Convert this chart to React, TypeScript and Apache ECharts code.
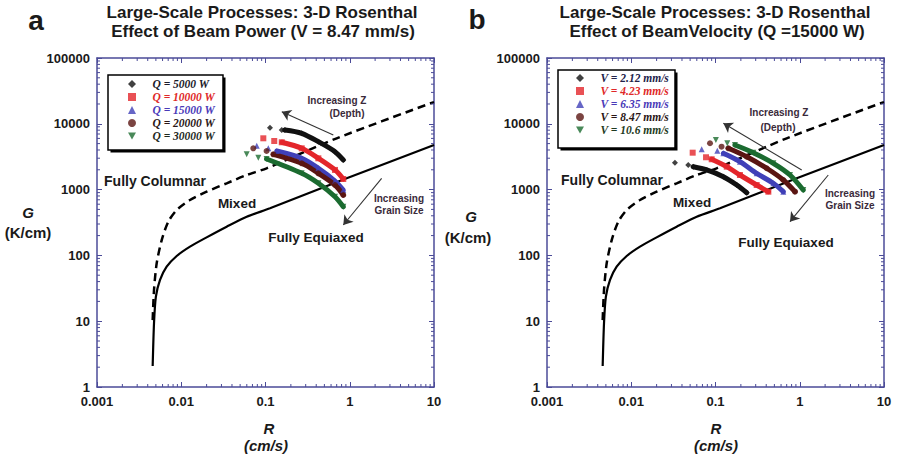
import React, { useEffect, useRef } from 'react';
import * as echarts from 'echarts';

// ---------- tick labels ----------
const xTickLabels = ['0.001', '0.01', '0.1', '1', '10'];
const yTickLabels = ['1', '10', '100', '1000', '10000', '100000'];
const minorMultipliers = [2, 3, 4, 5, 6, 7, 8, 9];
const xDecades = [0.001, 0.01, 0.1, 1];
const yDecades = [1, 10, 100, 1000, 10000];

// ---------- boundary curves (R in cm/s, G in K/cm) ----------
const equiaxedR = [0.00458, 0.00475, 0.005, 0.0056, 0.00671, 0.00883, 0.0127, 0.02, 0.0346, 0.0598, 0.113, 0.92, 10];
const equiaxedG = [2.08, 9.3, 23.6, 42.3, 67.3, 98, 136, 188, 273, 387, 520, 1485, 4760];
const columnarR = [0.00458, 0.00475, 0.00511, 0.00586, 0.00701, 0.00883, 0.0127, 0.02, 0.0346, 0.0598, 0.103, 0.7, 10];
const columnarG = [10.4, 29.8, 75.9, 171, 325, 490, 695, 929, 1247, 1667, 2108, 6020, 21400];

// ---------- panel a: effect of beam power ----------
const powerNames = ['Q = 5000 W', 'Q = 10000 W', 'Q = 15000 W', 'Q = 20000 W', 'Q = 30000 W'];
const q5000R = [0.113, 0.156, 0.17, 0.269, 0.424, 0.668, 0.838];
const q5000G = [8730, 8050, 8050, 7170, 5350, 3770, 2820];
const q10000R = [0.0942, 0.127, 0.156, 0.269, 0.424, 0.668, 0.838];
const q10000G = [6020, 5480, 5240, 4240, 2990, 1990, 1450];
const q15000R = [0.0787, 0.108, 0.136, 0.269, 0.424, 0.668, 0.838];
const q15000G = [4650, 4240, 3860, 2990, 2110, 1350, 986];
const q20000R = [0.0716, 0.103, 0.124, 0.269, 0.424, 0.668, 0.838];
const q20000G = [4240, 3860, 3440, 2510, 1770, 1175, 828];
const q30000R = [0.0598, 0.0822, 0.103, 0.269, 0.424, 0.668, 0.838];
const q30000G = [3440, 3050, 2920, 1770, 1247, 780, 550];

// ---------- panel b: effect of beam velocity ----------
const velocityNames = ['V = 2.12 mm/s', 'V = 4.23 mm/s', 'V = 6.35 mm/s', 'V = 8.47 mm/s', 'V = 10.6 mm/s'];
const v212R = [0.033, 0.0475, 0.0545, 0.0787, 0.124, 0.179, 0.235];
const v212G = [2560, 2370, 2230, 1990, 1570, 1175, 897];
const v423R = [0.0536, 0.0772, 0.0901, 0.136, 0.195, 0.308, 0.424];
const v423G = [3640, 3100, 2890, 2230, 1667, 1175, 929];
const v635R = [0.0686, 0.105, 0.124, 0.195, 0.308, 0.486, 0.638];
const v635G = [4090, 3900, 3560, 2660, 1770, 1247, 929];
const v847R = [0.0861, 0.118, 0.142, 0.235, 0.405, 0.638, 0.879];
const v847G = [5060, 4490, 4240, 3160, 2110, 1400, 929];
const v106R = [0.101, 0.138, 0.17, 0.281, 0.486, 0.766, 1.1];
const v106G = [5670, 5060, 4760, 3640, 2510, 1667, 986];

// ---------- annotation arrows [tailR, tailG, headR, headG] ----------
const arrowsA = [
  [0.638, 6760, 0.156, 15280],
  [2.39, 1485, 0.838, 290],
];
const arrowsB = [
  [1.055, 1990, 0.124, 10180],
  [2.18, 1667, 0.766, 325],
];

const ISOLATED = 2; // first points of every series are separate markers

const AXIS_COLOR = '#4b4b98';
const SANS = "'Liberation Sans', Arial, Helvetica, sans-serif";
const SERIF = "'Liberation Serif', 'Times New Roman', serif";
const symbols = ['diamond', 'rect', 'triangle', 'circle', 'triangle'];
const symbolRotates = [0, 0, 0, 0, 180];
const legendIcons = ['diamond', 'rect', 'triangle', 'circle', 'path://M0,0L10,0L5,9Z'];
const seriesColors = ['#111111', '#e3262b', '#4040b8', '#5a1512', '#1b6b30'];
const legendTextA = ['#1a1a2a', '#e02828', '#4a3ab8', '#2a1616', '#1e2a1e'];
const legendTextB = ['#22224a', '#e02828', '#4a3ab8', '#2a1616', '#1e3a22'];

const zip = (a: number[], b: number[]) => a.map((v, i) => [v, b[i]]);

function xAxisCfg(gi: number, pos: 'bottom' | 'top') {
  return {
    type: 'log', logBase: 10, gridIndex: gi, position: pos, min: 0.001, max: 10, splitNumber: 4,
    axisLine: { show: true, onZero: false, lineStyle: { color: AXIS_COLOR, width: 1.5 } },
    axisTick: { show: true, inside: true, length: 5, lineStyle: { color: AXIS_COLOR, width: 1 } },
    splitLine: { show: false },
    axisLabel: pos === 'bottom'
      ? {
          show: true, margin: 8, color: '#1a1a1a', fontSize: 13, fontWeight: 'bold', fontFamily: SANS,
          formatter: (v: number) => xTickLabels[Math.round(Math.log10(v)) + 3] ?? '',
        }
      : { show: false },
  };
}
function yAxisCfg(gi: number, pos: 'left' | 'right') {
  return {
    type: 'log', logBase: 10, gridIndex: gi, position: pos, min: 1, max: 100000, splitNumber: 5,
    axisLine: { show: true, onZero: false, lineStyle: { color: AXIS_COLOR, width: 1.5 } },
    axisTick: { show: true, inside: true, length: 5, lineStyle: { color: AXIS_COLOR, width: 1 } },
    splitLine: { show: false },
    axisLabel: pos === 'left'
      ? {
          show: true, margin: 7, color: '#1a1a1a', fontSize: 13, fontWeight: 'bold', fontFamily: SANS,
          formatter: (v: number) => yTickLabels[Math.round(Math.log10(v))] ?? '',
        }
      : { show: false },
  };
}

function minorTickSeries(gi: number) {
  const xs: number[][] = [];
  xDecades.forEach((d) => minorMultipliers.forEach((m) => xs.push([d * m, 1, 0])));
  yDecades.forEach((d) => minorMultipliers.forEach((m) => xs.push([0.001, d * m, 1])));
  return {
    type: 'custom', xAxisIndex: gi * 2, yAxisIndex: gi * 2, silent: true, clip: false, z: 6,
    data: xs,
    renderItem: (_p: any, api: any) => {
      const st = { stroke: AXIS_COLOR, lineWidth: 1 };
      if (api.value(2) === 0) {
        const b = api.coord([api.value(0), 1]);
        const t = api.coord([api.value(0), 100000]);
        return {
          type: 'group', children: [
            { type: 'line', shape: { x1: b[0], y1: b[1], x2: b[0], y2: b[1] - 3 }, style: st },
            { type: 'line', shape: { x1: t[0], y1: t[1], x2: t[0], y2: t[1] + 3 }, style: st },
          ],
        };
      }
      const l = api.coord([0.001, api.value(1)]);
      const r = api.coord([10, api.value(1)]);
      return {
        type: 'group', children: [
          { type: 'line', shape: { x1: l[0], y1: l[1], x2: l[0] + 3, y2: l[1] }, style: st },
          { type: 'line', shape: { x1: r[0], y1: r[1], x2: r[0] - 3, y2: r[1] }, style: st },
        ],
      };
    },
  };
}

function panelSeries(gi: number, names: string[], Rs: number[][], Gs: number[][], arrows: number[][]) {
  const ax = { xAxisIndex: gi * 2, yAxisIndex: gi * 2 };
  const out: any[] = [
    {
      type: 'line', ...ax, name: `equiaxed-${gi}`, data: zip(equiaxedR, equiaxedG), symbol: 'none', smooth: 0.25,
      silent: true, z: 2, lineStyle: { color: '#000', width: 2.2 },
    },
    {
      type: 'line', ...ax, name: `columnar-${gi}`, data: zip(columnarR, columnarG), symbol: 'none', smooth: 0.25,
      silent: true, z: 2, lineStyle: { color: '#000', width: 2.5, type: [8, 5] },
      markLine: {
        silent: true, symbol: ['none', 'arrow'], symbolSize: 9, label: { show: false },
        lineStyle: { color: '#333', width: 1.1, type: 'solid' },
        itemStyle: { color: '#333' },
        data: arrows.map((a) => [{ coord: [a[0], a[1]] }, { coord: [a[2], a[3]] }]),
      },
    },
  ];
  names.forEach((n, i) => {
    out.push({
      type: 'line', ...ax, name: `band-${gi}-${i}`, data: zip(Rs[i].slice(ISOLATED), Gs[i].slice(ISOLATED)),
      symbol: 'none', smooth: 0.3, silent: true, z: 3,
      lineStyle: { color: seriesColors[i], width: 5, cap: 'round' },
    });
    out.push({
      type: 'scatter', ...ax, name: n, data: zip(Rs[i], Gs[i]), symbol: symbols[i], symbolRotate: symbolRotates[i],
      symbolSize: 6, z: 4, itemStyle: { color: seriesColors[i] },
    });
  });
  out.push(minorTickSeries(gi));
  return out;
}

function txt(x: number, y: number, text: string, size: number, opts: any = {}) {
  return {
    type: 'text', x, y, silent: true,
    style: {
      text, fontSize: size, fontWeight: opts.weight ?? 'bold', fontStyle: opts.style ?? 'normal',
      fontFamily: opts.family ?? SANS, fill: opts.color ?? '#1a1a1a',
      align: opts.align ?? 'center', verticalAlign: 'middle',
      textAlign: opts.align ?? 'center', textVerticalAlign: 'middle',
    },
  };
}

function legendCfg(names: string[], colors: string[], left: number, top: number) {
  return {
    data: names.map((n, i) => ({ name: n, icon: legendIcons[i], textStyle: { color: colors[i] } })),
    orient: 'vertical', left, top, padding: 0, itemGap: 1, itemWidth: 8, itemHeight: 8,
    selectedMode: false,
    formatter: (name: string) => '\u2002\u2002' + name,
    textStyle: { fontFamily: SERIF, fontStyle: 'italic', fontWeight: 'bold', fontSize: 11.5, lineHeight: 12 },
  };
}

export default function App() {
  const ref = useRef<HTMLDivElement>(null);
  useEffect(() => {
    document.body.style.margin = '0';
    const chart = echarts.init(ref.current!, null, { renderer: 'svg' });
    const option = {
      animation: false,
      backgroundColor: '#ffffff',
      grid: [
        { left: 97, top: 58, width: 337, height: 329 },
        { left: 547, top: 58, width: 337, height: 329 },
      ],
      xAxis: [xAxisCfg(0, 'bottom'), xAxisCfg(0, 'top'), xAxisCfg(1, 'bottom'), xAxisCfg(1, 'top')],
      yAxis: [yAxisCfg(0, 'left'), yAxisCfg(0, 'right'), yAxisCfg(1, 'left'), yAxisCfg(1, 'right')],
      legend: [
        legendCfg(powerNames, legendTextA, 128, 78),
        legendCfg(velocityNames, legendTextB, 576, 72),
      ],
      series: [
        ...panelSeries(0, powerNames, [q5000R, q10000R, q15000R, q20000R, q30000R],
          [q5000G, q10000G, q15000G, q20000G, q30000G], arrowsA),
        ...panelSeries(1, velocityNames, [v212R, v423R, v635R, v847R, v106R],
          [v212G, v423G, v635G, v847G, v106G], arrowsB),
      ],
      graphic: [
        // legend frames
        { type: 'rect', silent: true, shape: { x: 110.5, y: 77.5, width: 115, height: 75 }, style: { fill: '#000' } },
        { type: 'rect', silent: true, shape: { x: 108, y: 75, width: 115, height: 75 }, style: { fill: '#fff', stroke: '#000', lineWidth: 1.5 } },
        { type: 'rect', silent: true, shape: { x: 560.5, y: 72.5, width: 117, height: 78 }, style: { fill: '#000' } },
        { type: 'rect', silent: true, shape: { x: 558, y: 70, width: 117, height: 78 }, style: { fill: '#fff', stroke: '#000', lineWidth: 1.5 } },
        // panel letters & titles
        txt(36, 20, 'a', 28),
        txt(262, 12, 'Large-Scale Processes: 3-D Rosenthal', 17),
        txt(263, 31, 'Effect of Beam Power (V = 8.47 mm/s)', 17),
        txt(477, 19, 'b', 28),
        txt(715, 12, 'Large-Scale Processes: 3-D Rosenthal', 17),
        txt(717, 31, 'Effect of BeamVelocity (Q =15000 W)', 17),
        // axis names
        txt(269, 428, 'R', 15, { style: 'italic' }),
        txt(266, 445, '(cm/s)', 15, { style: 'italic' }),
        txt(716, 428, 'R', 15, { style: 'italic' }),
        txt(716, 445, '(cm/s)', 15, { style: 'italic' }),
        txt(28, 212, 'G', 15, { style: 'italic' }),
        txt(28, 232, '(K/cm)', 15),
        txt(471, 216, 'G', 15, { style: 'italic' }),
        txt(468, 237, '(K/cm)', 15),
        // region labels panel a
        txt(155, 181, 'Fully Columnar', 14),
        txt(237, 203, 'Mixed', 13.5),
        txt(316, 237, 'Fully Equiaxed', 13.5),
        txt(337, 100, 'Increasing Z', 10, { color: '#3a2a3a' }),
        txt(347, 113, '(Depth)', 10, { color: '#3a2a3a' }),
        txt(399, 198, 'Increasing', 10, { color: '#3a2a3a' }),
        txt(399, 210, 'Grain Size', 10, { color: '#3a2a3a' }),
        // region labels panel b
        txt(612, 180, 'Fully Columnar', 14),
        txt(692, 202, 'Mixed', 13.5),
        txt(786, 242, 'Fully Equiaxed', 13.5),
        txt(779, 112, 'Increasing Z', 10, { color: '#3a2a3a' }),
        txt(778, 127, '(Depth)', 10, { color: '#3a2a3a' }),
        txt(850, 193, 'Increasing', 10, { color: '#3a2a3a' }),
        txt(850, 205, 'Grain Size', 10, { color: '#3a2a3a' }),
      ],
    };
    chart.setOption(option as any);
    return () => chart.dispose();
  }, []);
  return <div ref={ref} style={{ width: 898, height: 458 }} />;
}
